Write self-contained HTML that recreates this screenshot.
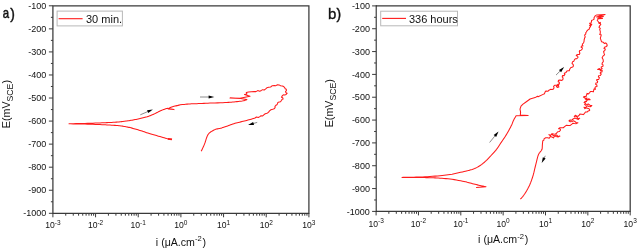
<!DOCTYPE html>
<html><head><meta charset="utf-8"><style>
html,body{margin:0;padding:0;background:#fff;}
svg{display:block;will-change:transform;}
text{font-family:"Liberation Sans", sans-serif;fill:#111;}
</style></head><body>
<svg width="637" height="249" viewBox="0 0 637 249">
<rect width="637" height="249" fill="#fff"/>
<path d="M52.9,213.3 L52.9,5.8 L308.9,5.8 L308.9,213.3 Z" fill="none" stroke="#3a3a3a" stroke-width="1.25"/>
<path d="M48.90,5.80H52.90M50.90,17.33H52.90M48.90,28.86H52.90M50.90,40.38H52.90M48.90,51.91H52.90M50.90,63.44H52.90M48.90,74.97H52.90M50.90,86.49H52.90M48.90,98.02H52.90M50.90,109.55H52.90M48.90,121.08H52.90M50.90,132.61H52.90M48.90,144.13H52.90M50.90,155.66H52.90M48.90,167.19H52.90M50.90,178.72H52.90M48.90,190.24H52.90M50.90,201.77H52.90M48.90,213.30H52.90M52.90,213.30V217.30M65.74,213.30V215.70M73.26,213.30V215.70M78.59,213.30V215.70M82.72,213.30V215.70M86.10,213.30V215.70M88.96,213.30V215.70M91.43,213.30V215.70M93.61,213.30V215.70M95.57,213.30V217.30M108.41,213.30V215.70M115.92,213.30V215.70M121.25,213.30V215.70M125.39,213.30V215.70M128.77,213.30V215.70M131.62,213.30V215.70M134.10,213.30V215.70M136.28,213.30V215.70M138.23,213.30V217.30M151.08,213.30V215.70M158.59,213.30V215.70M163.92,213.30V215.70M168.06,213.30V215.70M171.43,213.30V215.70M174.29,213.30V215.70M176.77,213.30V215.70M178.95,213.30V215.70M180.90,213.30V217.30M193.74,213.30V215.70M201.26,213.30V215.70M206.59,213.30V215.70M210.72,213.30V215.70M214.10,213.30V215.70M216.96,213.30V215.70M219.43,213.30V215.70M221.61,213.30V215.70M223.57,213.30V217.30M236.41,213.30V215.70M243.92,213.30V215.70M249.25,213.30V215.70M253.39,213.30V215.70M256.77,213.30V215.70M259.62,213.30V215.70M262.10,213.30V215.70M264.28,213.30V215.70M266.23,213.30V217.30M279.08,213.30V215.70M286.59,213.30V215.70M291.92,213.30V215.70M296.06,213.30V215.70M299.43,213.30V215.70M302.29,213.30V215.70M304.77,213.30V215.70M306.95,213.30V215.70M308.90,213.30V217.30" fill="none" stroke="#3a3a3a" stroke-width="1"/>
<text x="46.2" y="8.90" text-anchor="end" font-size="9">-100</text>
<text x="46.2" y="31.96" text-anchor="end" font-size="9">-200</text>
<text x="46.2" y="55.01" text-anchor="end" font-size="9">-300</text>
<text x="46.2" y="78.07" text-anchor="end" font-size="9">-400</text>
<text x="46.2" y="101.12" text-anchor="end" font-size="9">-500</text>
<text x="46.2" y="124.18" text-anchor="end" font-size="9">-600</text>
<text x="46.2" y="147.23" text-anchor="end" font-size="9">-700</text>
<text x="46.2" y="170.29" text-anchor="end" font-size="9">-800</text>
<text x="46.2" y="193.34" text-anchor="end" font-size="9">-900</text>
<text x="46.2" y="216.40" text-anchor="end" font-size="9">-1000</text>
<text x="52.90" y="228.2" text-anchor="middle" font-size="8.6">10<tspan font-size="6.5" dy="-3.4">-3</tspan></text>
<text x="95.57" y="228.2" text-anchor="middle" font-size="8.6">10<tspan font-size="6.5" dy="-3.4">-2</tspan></text>
<text x="138.23" y="228.2" text-anchor="middle" font-size="8.6">10<tspan font-size="6.5" dy="-3.4">-1</tspan></text>
<text x="180.90" y="228.2" text-anchor="middle" font-size="8.6">10<tspan font-size="6.5" dy="-3.4">0</tspan></text>
<text x="223.57" y="228.2" text-anchor="middle" font-size="8.6">10<tspan font-size="6.5" dy="-3.4">1</tspan></text>
<text x="266.23" y="228.2" text-anchor="middle" font-size="8.6">10<tspan font-size="6.5" dy="-3.4">2</tspan></text>
<text x="308.90" y="228.2" text-anchor="middle" font-size="8.6">10<tspan font-size="6.5" dy="-3.4">3</tspan></text>
<text x="180.90" y="245.5" text-anchor="middle" font-size="10.6">i (&#956;A.cm<tspan font-size="7.6" dy="-4.4">-2</tspan><tspan dy="4.4" dx="0.7">)</tspan></text>
<text transform="translate(10.4,128.2) rotate(-90)" x="0" y="0" font-size="10.7">E(mV<tspan font-size="8.7" dy="2.3">SCE</tspan><tspan dy="-2.3">)</tspan></text>
<text transform="translate(2.7,18.4) scale(0.8,1)" font-size="14.2" stroke="#111" stroke-width="0.55">a</text>
<text x="10.3" y="18.6" font-size="13.8" stroke="#111" stroke-width="0.4">)</text>
<rect x="57.1" y="11.1" width="65.30" height="14.80" fill="#fff" stroke="#b8b8b8" stroke-width="1"/>
<path d="M58.6,18.7H82.6" stroke="#ff1a1a" stroke-width="1.1"/>
<text x="86.0" y="22.90" font-size="11">30 min.</text>
<path d="M376.1,211.4 L630.2,211.4 L630.2,5.9 L376.1,5.9" fill="none" stroke="#3a3a3a" stroke-width="1.25"/>
<path d="M376.2,212.0 L376.2,5.300000000000001" fill="none" stroke="#222" stroke-width="1.05"/>
<path d="M372.10,5.90H376.10M374.10,17.32H376.10M372.10,28.73H376.10M374.10,40.15H376.10M372.10,51.57H376.10M374.10,62.98H376.10M372.10,74.40H376.10M374.10,85.82H376.10M372.10,97.23H376.10M374.10,108.65H376.10M372.10,120.07H376.10M374.10,131.48H376.10M372.10,142.90H376.10M374.10,154.32H376.10M372.10,165.73H376.10M374.10,177.15H376.10M372.10,188.57H376.10M374.10,199.98H376.10M372.10,211.40H376.10M376.10,211.40V215.40M388.85,211.40V213.80M396.31,211.40V213.80M401.60,211.40V213.80M405.70,211.40V213.80M409.05,211.40V213.80M411.89,211.40V213.80M414.35,211.40V213.80M416.51,211.40V213.80M418.45,211.40V215.40M431.20,211.40V213.80M438.66,211.40V213.80M443.95,211.40V213.80M448.05,211.40V213.80M451.40,211.40V213.80M454.24,211.40V213.80M456.70,211.40V213.80M458.86,211.40V213.80M460.80,211.40V215.40M473.55,211.40V213.80M481.01,211.40V213.80M486.30,211.40V213.80M490.40,211.40V213.80M493.75,211.40V213.80M496.59,211.40V213.80M499.05,211.40V213.80M501.21,211.40V213.80M503.15,211.40V215.40M515.90,211.40V213.80M523.36,211.40V213.80M528.65,211.40V213.80M532.75,211.40V213.80M536.10,211.40V213.80M538.94,211.40V213.80M541.40,211.40V213.80M543.56,211.40V213.80M545.50,211.40V215.40M558.25,211.40V213.80M565.71,211.40V213.80M571.00,211.40V213.80M575.10,211.40V213.80M578.45,211.40V213.80M581.29,211.40V213.80M583.75,211.40V213.80M585.91,211.40V213.80M587.85,211.40V215.40M600.60,211.40V213.80M608.06,211.40V213.80M613.35,211.40V213.80M617.45,211.40V213.80M620.80,211.40V213.80M623.64,211.40V213.80M626.10,211.40V213.80M628.26,211.40V213.80M630.20,211.40V215.40" fill="none" stroke="#3a3a3a" stroke-width="1"/>
<text x="369.9" y="9.00" text-anchor="end" font-size="9">-100</text>
<text x="369.9" y="31.83" text-anchor="end" font-size="9">-200</text>
<text x="369.9" y="54.67" text-anchor="end" font-size="9">-300</text>
<text x="369.9" y="77.50" text-anchor="end" font-size="9">-400</text>
<text x="369.9" y="100.33" text-anchor="end" font-size="9">-500</text>
<text x="369.9" y="123.17" text-anchor="end" font-size="9">-600</text>
<text x="369.9" y="146.00" text-anchor="end" font-size="9">-700</text>
<text x="369.9" y="168.83" text-anchor="end" font-size="9">-800</text>
<text x="369.9" y="191.67" text-anchor="end" font-size="9">-900</text>
<text x="369.9" y="214.50" text-anchor="end" font-size="9">-1000</text>
<text x="376.10" y="226.7" text-anchor="middle" font-size="8.6">10<tspan font-size="6.5" dy="-3.4">-3</tspan></text>
<text x="418.45" y="226.7" text-anchor="middle" font-size="8.6">10<tspan font-size="6.5" dy="-3.4">-2</tspan></text>
<text x="460.80" y="226.7" text-anchor="middle" font-size="8.6">10<tspan font-size="6.5" dy="-3.4">-1</tspan></text>
<text x="503.15" y="226.7" text-anchor="middle" font-size="8.6">10<tspan font-size="6.5" dy="-3.4">0</tspan></text>
<text x="545.50" y="226.7" text-anchor="middle" font-size="8.6">10<tspan font-size="6.5" dy="-3.4">1</tspan></text>
<text x="587.85" y="226.7" text-anchor="middle" font-size="8.6">10<tspan font-size="6.5" dy="-3.4">2</tspan></text>
<text x="630.20" y="226.7" text-anchor="middle" font-size="8.6">10<tspan font-size="6.5" dy="-3.4">3</tspan></text>
<text x="503.15" y="243.2" text-anchor="middle" font-size="10.6">i (&#956;A.cm<tspan font-size="7.6" dy="-4.4">-2</tspan><tspan dy="4.4" dx="0.7">)</tspan></text>
<text transform="translate(333.3,127.3) rotate(-90)" x="0" y="0" font-size="10.7">E(mV<tspan font-size="8.7" dy="2.3">SCE</tspan><tspan dy="-2.3">)</tspan></text>
<text x="328.1" y="18.8" font-size="15" stroke="#111" stroke-width="0.35">b</text>
<text x="336.5" y="18.8" font-size="13.8" stroke="#111" stroke-width="0.4">)</text>
<rect x="380.7" y="11.2" width="76.80" height="14.60" fill="#fff" stroke="#b8b8b8" stroke-width="1"/>
<path d="M382.2,18.4H406.0" stroke="#ff1a1a" stroke-width="1.1"/>
<text x="408.9" y="23.00" font-size="11">336 hours</text>
<path d="M171.90,139.40 L171.48,139.35 L170.94,139.30 L170.28,139.24 L169.51,139.14 L168.65,139.00 L167.70,138.80 L166.65,138.54 L165.50,138.22 L164.26,137.86 L162.92,137.46 L161.50,137.04 L160.00,136.60 L158.35,136.13 L156.53,135.61 L154.62,135.06 L152.72,134.51 L150.92,133.99 L149.30,133.50 L147.88,133.05 L146.60,132.63 L145.41,132.22 L144.28,131.83 L143.19,131.46 L142.10,131.10 L141.03,130.76 L140.01,130.45 L139.03,130.16 L138.06,129.87 L137.09,129.59 L136.10,129.30 L135.09,129.01 L134.07,128.71 L133.05,128.41 L132.03,128.13 L131.01,127.85 L130.00,127.60 L128.98,127.37 L127.96,127.14 L126.93,126.94 L125.92,126.74 L124.94,126.57 L124.00,126.40 L123.16,126.25 L122.41,126.13 L121.69,126.01 L120.93,125.91 L120.05,125.81 L119.00,125.70 L117.74,125.59 L116.33,125.49 L114.81,125.39 L113.22,125.29 L111.60,125.19 L110.00,125.10 L108.45,125.01 L106.93,124.93 L105.38,124.84 L103.74,124.76 L101.97,124.68 L100.00,124.60 L97.80,124.51 L95.41,124.43 L92.88,124.34 L90.26,124.25 L87.62,124.17 L85.00,124.10 L82.21,124.03 L79.15,123.97 L76.06,123.92 L73.19,123.87 L70.75,123.83 L69.00,123.80 L70.75,123.76 L73.19,123.70 L76.06,123.63 L79.15,123.56 L82.21,123.48 L85.00,123.40 L87.62,123.32 L90.26,123.24 L92.88,123.15 L95.41,123.06 L97.80,122.98 L100.00,122.90 L101.97,122.83 L103.74,122.77 L105.38,122.71 L106.93,122.64 L108.45,122.58 L110.00,122.50 L111.60,122.41 L113.22,122.31 L114.81,122.21 L116.33,122.11 L117.74,122.00 L119.00,121.90 L120.05,121.80 L120.93,121.71 L121.69,121.61 L122.41,121.51 L123.16,121.41 L124.00,121.30 L124.94,121.18 L125.92,121.06 L126.93,120.93 L127.96,120.80 L128.98,120.65 L130.00,120.50 L131.01,120.34 L132.03,120.16 L133.05,119.98 L134.07,119.79 L135.09,119.60 L136.10,119.40 L137.11,119.20 L138.11,119.00 L139.11,118.79 L140.10,118.57 L141.10,118.34 L142.10,118.10 L143.10,117.85 L144.10,117.59 L145.10,117.32 L146.10,117.03 L147.10,116.73 L148.10,116.40 L149.12,116.04 L150.16,115.64 L151.20,115.23 L152.22,114.81 L153.19,114.40 L154.10,114.00 L154.94,113.61 L155.74,113.22 L156.49,112.84 L157.20,112.47 L157.87,112.12 L158.50,111.80 L159.07,111.52 L159.59,111.26 L160.06,111.03 L160.51,110.81 L160.95,110.60 L161.40,110.40 L161.84,110.21 L162.26,110.04 L162.68,109.88 L163.09,109.73 L163.53,109.57 L164.00,109.40 L164.55,109.21 L165.17,109.00 L165.81,108.79 L166.42,108.59 L166.93,108.42 L167.30,108.30 L168.20,108.90 L174.00,109.60 L168.50,108.50 L171.00,107.20 L174.00,106.20 L177.00,105.40 L180.00,104.90 L176.00,105.90 L179.00,105.00 L182.20,104.60 L183.04,104.52 L184.20,104.40 L185.57,104.27 L187.06,104.13 L188.57,104.00 L190.00,103.90 L191.34,103.83 L192.67,103.78 L194.02,103.74 L195.42,103.70 L196.90,103.66 L198.50,103.60 L200.20,103.53 L201.98,103.45 L203.84,103.36 L205.80,103.27 L207.85,103.19 L210.00,103.10 L212.37,103.02 L214.96,102.94 L217.66,102.86 L220.31,102.78 L222.81,102.69 L225.00,102.60 L226.86,102.50 L228.48,102.39 L229.93,102.28 L231.29,102.16 L232.62,102.03 L234.00,101.90 L235.45,101.76 L236.92,101.62 L238.36,101.47 L239.74,101.31 L241.00,101.16 L242.10,101.00 L243.05,100.83 L243.89,100.64 L244.61,100.44 L245.21,100.26 L245.71,100.11 L246.10,100.00 L246.90,99.60 L240.50,98.40 L230.00,98.00 L240.00,98.30 L250.00,96.30 L244.50,94.60 L246.90,94.00 L246.30,92.60 L248.50,92.00 L254.10,91.50 L255.98,91.62 L257.70,90.61 L259.65,91.16 L261.40,90.40 L262.63,89.66 L264.21,89.97 L265.40,89.10 L266.85,87.79 L268.70,87.20 L270.65,86.97 L272.31,85.70 L274.30,85.60 L275.94,85.67 L277.44,84.71 L279.10,84.90 L280.60,85.75 L282.30,86.00 L283.68,86.53 L284.70,87.60 L285.20,88.70 L286.30,89.20 L286.42,90.62 L285.50,91.70 L286.06,92.74 L287.10,93.30 L286.10,94.41 L284.70,94.90 L283.35,94.84 L282.30,95.70 L281.50,97.30 L282.71,97.69 L283.10,98.90 L281.97,99.37 L281.50,100.50 L280.53,101.65 L279.10,102.10 L277.88,102.48 L277.50,103.70 L276.92,104.72 L275.90,105.30 L274.97,106.32 L275.10,107.70 L274.11,108.82 L272.70,109.30 L270.95,109.79 L269.50,110.90 L268.48,112.34 L267.00,113.30 L265.22,113.75 L263.80,114.90 L262.68,115.97 L260.99,115.71 L259.80,116.60 L258.33,117.52 L256.46,117.06 L255.00,118.00 L254.36,118.20 L253.48,118.47 L252.44,118.79 L251.30,119.13 L250.13,119.48 L249.00,119.80 L247.89,120.10 L246.74,120.40 L245.56,120.71 L244.37,121.01 L243.18,121.31 L242.00,121.60 L240.83,121.88 L239.64,122.15 L238.46,122.42 L237.29,122.69 L236.13,122.98 L235.00,123.30 L233.88,123.66 L232.77,124.05 L231.67,124.46 L230.60,124.86 L229.57,125.25 L228.60,125.60 L227.68,125.91 L226.79,126.20 L225.95,126.47 L225.15,126.73 L224.40,126.97 L223.70,127.20 L223.09,127.41 L222.57,127.61 L222.09,127.79 L221.62,127.96 L221.11,128.13 L220.50,128.30 L219.79,128.46 L219.02,128.59 L218.20,128.71 L217.36,128.86 L216.52,129.05 L215.70,129.30 L214.87,129.63 L214.02,130.03 L213.16,130.46 L212.34,130.92 L211.57,131.37 L210.90,131.80 L210.33,132.20 L209.83,132.57 L209.40,132.95 L209.01,133.34 L208.65,133.75 L208.30,134.20 L207.98,134.66 L207.71,135.11 L207.47,135.59 L207.24,136.12 L206.99,136.75 L206.70,137.50 L206.38,138.40 L206.05,139.43 L205.71,140.56 L205.34,141.73 L204.94,142.93 L204.50,144.10 L203.98,145.35 L203.36,146.72 L202.71,148.11 L202.10,149.41 L201.57,150.51 L201.20,151.30" fill="none" stroke="#ff1a1a" stroke-width="1.05" stroke-linejoin="round"/>
<path d="M167.8,138.85 L172.0,139.45" stroke="#ff1a1a" stroke-width="1.7"/>
<path d="M476.10,187.40 L486.00,186.80 L485.60,186.71 L485.07,186.59 L484.44,186.45 L483.70,186.29 L482.89,186.10 L482.00,185.90 L481.01,185.68 L479.89,185.43 L478.69,185.16 L477.44,184.88 L476.20,184.59 L475.00,184.30 L473.80,183.99 L472.55,183.65 L471.31,183.31 L470.10,182.97 L468.99,182.66 L468.00,182.40 L467.26,182.21 L466.77,182.07 L466.36,181.97 L465.89,181.86 L465.18,181.71 L464.10,181.50 L462.57,181.20 L460.70,180.82 L458.61,180.41 L456.41,180.00 L454.20,179.62 L452.10,179.30 L450.06,179.05 L448.00,178.83 L445.93,178.64 L443.88,178.48 L441.90,178.34 L440.00,178.20 L438.23,178.08 L436.59,177.98 L434.99,177.89 L433.40,177.82 L431.76,177.76 L430.00,177.70 L428.16,177.65 L426.30,177.61 L424.38,177.57 L422.37,177.55 L420.25,177.52 L418.00,177.50 L415.38,177.48 L412.37,177.46 L409.25,177.44 L406.30,177.42 L403.79,177.41 L402.00,177.40 L403.05,177.38 L404.48,177.36 L406.19,177.32 L408.07,177.29 L410.04,177.25 L412.00,177.20 L413.97,177.15 L416.04,177.11 L418.19,177.06 L420.41,176.99 L422.68,176.91 L425.00,176.80 L427.42,176.66 L429.96,176.50 L432.56,176.32 L435.14,176.12 L437.64,175.91 L440.00,175.70 L442.19,175.49 L444.25,175.27 L446.24,175.05 L448.18,174.80 L450.12,174.52 L452.10,174.20 L454.18,173.80 L456.33,173.34 L458.49,172.84 L460.56,172.35 L462.45,171.89 L464.10,171.50 L465.42,171.21 L466.48,170.99 L467.36,170.80 L468.18,170.61 L469.02,170.39 L470.00,170.10 L471.10,169.75 L472.25,169.38 L473.43,168.97 L474.62,168.51 L475.81,167.99 L477.00,167.40 L478.18,166.73 L479.36,166.01 L480.55,165.22 L481.74,164.37 L482.92,163.46 L484.10,162.50 L485.29,161.45 L486.50,160.29 L487.70,159.08 L488.88,157.85 L490.02,156.64 L491.10,155.50 L492.11,154.43 L493.07,153.41 L493.99,152.41 L494.87,151.41 L495.74,150.38 L496.60,149.30 L497.44,148.16 L498.25,146.97 L499.04,145.76 L499.83,144.54 L500.61,143.31 L501.40,142.10 L502.20,140.92 L503.00,139.76 L503.79,138.60 L504.59,137.42 L505.39,136.19 L506.20,134.90 L507.04,133.49 L507.92,131.97 L508.80,130.41 L509.65,128.86 L510.43,127.41 L511.10,126.10 L511.64,124.96 L512.08,123.93 L512.44,122.99 L512.78,122.10 L513.12,121.25 L513.50,120.40 L513.95,119.52 L514.45,118.61 L514.95,117.74 L515.42,116.95 L515.81,116.29 L516.10,115.80 L528.20,115.40 L520.30,115.10 L520.60,112.10 L520.00,109.10 L521.00,106.10 L523.00,104.10 L526.00,102.00 L530.10,99.00 L535.10,97.60 L537.50,96.20 L538.10,96.80 L543.10,94.40 L544.52,93.70 L545.00,92.20 L546.02,90.91 L547.88,91.29 L549.00,90.20 L550.50,89.38 L552.20,89.50 L553.48,88.98 L554.00,87.70 L553.57,86.32 L554.60,85.30 L556.60,85.31 L558.20,84.10 L557.77,85.65 L556.40,86.50 L557.43,87.49 L558.80,87.10 L558.45,85.19 L559.40,83.50 L559.29,82.28 L558.20,81.70 L558.53,80.23 L560.00,79.90 L561.30,80.50 L562.82,79.70 L563.10,78.00 L562.26,76.94 L562.50,75.60 L564.02,75.63 L564.90,74.40 L564.30,73.20 L566.10,72.60 L566.51,71.21 L567.90,70.80 L569.26,70.82 L569.60,69.50 L570.61,67.69 L572.60,67.10 L573.46,66.04 L573.20,64.70 L572.03,63.37 L572.60,61.70 L573.86,61.16 L574.40,59.90 L575.31,58.73 L576.80,58.70 L578.00,57.50 L577.66,56.04 L576.20,55.70 L576.81,54.67 L578.00,54.50 L579.31,54.47 L579.90,53.30 L579.30,51.40 L579.94,50.41 L581.10,50.20 L582.30,49.00 L582.32,47.68 L581.10,47.20 L581.56,45.94 L582.90,46.00 L582.30,44.20 L583.50,43.00 L584.10,41.20 L584.10,40.00 L584.60,38.10 L585.20,36.90 L584.60,35.10 L585.80,33.90 L585.80,32.70 L586.40,32.00 L587.00,30.80 L588.20,29.60 L589.40,29.00 L589.40,27.80 L590.60,26.60 L589.60,25.40 L591.04,25.42 L591.80,24.20 L590.35,24.47 L589.60,23.20 L590.81,23.15 L591.40,22.10 L591.52,20.57 L592.90,19.90 L594.09,19.12 L594.00,17.70 L595.40,15.60 L596.80,14.90 L605.10,14.50 L596.50,16.90 L603.30,16.40 L597.80,18.60 L602.50,18.40 L598.30,18.80 L597.20,20.30 L598.30,21.70 L599.08,22.87 L600.40,22.40 L599.00,23.50 L600.32,23.37 L600.80,24.60 L599.70,25.70 L599.01,27.27 L600.30,28.40 L599.70,29.60 L600.30,31.40 L600.30,33.30 L599.70,34.50 L601.19,34.81 L600.90,36.30 L600.30,38.10 L600.90,39.90 L601.50,41.70 L603.30,42.30 L604.30,43.39 L605.70,42.90 L606.90,44.10 L607.20,45.80 L605.80,46.80 L604.49,47.29 L604.00,48.60 L605.29,49.08 L604.90,50.40 L603.59,51.52 L604.00,53.20 L604.59,54.90 L603.10,55.90 L602.10,57.70 L603.10,59.50 L603.34,61.47 L602.20,63.10 L601.97,64.34 L603.10,64.90 L602.85,66.45 L601.30,66.70 L601.24,67.89 L602.20,68.60 L600.86,69.69 L599.07,68.57 L597.70,69.50 L599.32,69.20 L600.59,70.67 L602.20,70.40 L601.99,71.99 L600.40,72.20 L600.29,73.38 L601.30,74.00 L600.33,75.47 L598.60,75.80 L598.37,77.04 L599.50,77.60 L598.72,79.36 L596.80,79.40 L596.72,80.57 L597.70,81.20 L597.36,82.66 L595.90,83.00 L595.58,84.31 L596.80,84.90 L597.00,86.43 L595.50,86.80 L594.90,88.00 L595.50,89.20 L594.04,88.97 L593.70,90.40 L593.37,91.85 L591.90,91.60 L590.39,91.57 L589.50,92.80 L588.43,93.86 L587.00,93.40 L588.30,94.00 L586.95,93.97 L586.40,95.20 L586.07,96.66 L584.60,96.40 L583.40,97.00 L584.60,97.70 L585.67,98.92 L587.00,98.00 L586.38,99.02 L585.20,98.90 L586.37,99.69 L587.70,99.20 L589.04,98.79 L590.10,99.70 L588.40,99.39 L587.00,100.40 L586.47,101.58 L585.20,101.30 L584.00,102.50 L585.80,103.10 L584.60,104.30 L585.73,105.27 L587.00,104.50 L588.36,104.01 L589.50,104.90 L590.57,105.74 L591.90,105.50 L590.62,106.70 L588.90,106.40 L587.56,105.80 L586.40,106.70 L585.41,107.84 L584.00,107.30 L584.94,108.64 L586.40,107.90 L588.30,108.50 L589.50,109.10 L589.67,110.52 L588.30,110.90 L587.00,112.10 L585.43,111.95 L584.60,113.30 L583.30,114.60 L581.50,114.20 L579.89,113.98 L579.10,115.40 L578.04,116.26 L576.70,116.00 L575.25,115.29 L574.30,116.60 L576.08,116.11 L577.30,117.50 L578.21,118.84 L579.70,118.20 L578.36,119.43 L576.70,118.70 L574.84,118.09 L573.10,119.00 L571.82,120.19 L570.10,119.90 L568.90,120.80 L570.28,121.70 L571.90,121.40 L573.85,120.81 L575.50,122.00 L576.54,122.91 L577.90,122.70 L576.23,123.67 L574.30,123.50 L572.91,123.21 L571.90,124.20 L570.30,125.41 L568.30,125.40 L566.22,125.30 L564.60,126.60 L563.32,127.74 L561.60,127.80 L559.94,127.72 L558.60,128.70 L559.95,128.82 L560.60,130.00 L559.40,131.50 L557.76,131.72 L556.70,133.00 L555.44,134.21 L553.70,134.00 L552.03,133.64 L550.63,135.42 L548.90,134.60 L550.17,135.68 L551.79,134.37 L553.10,135.20 L554.71,136.11 L556.60,134.92 L558.10,136.62 L559.90,136.10 L558.06,136.91 L556.10,136.50 L554.58,135.66 L553.43,137.92 L551.90,137.00 L550.37,136.44 L549.23,138.27 L547.70,137.70 L545.67,137.73 L544.00,138.90 L543.90,140.14 L542.80,140.70 L542.76,141.10 L542.70,141.65 L542.62,142.30 L542.55,143.02 L542.47,143.76 L542.40,144.50 L542.35,145.27 L542.31,146.11 L542.28,146.98 L542.23,147.83 L542.14,148.62 L542.00,149.30 L541.79,149.86 L541.52,150.33 L541.21,150.74 L540.89,151.10 L540.58,151.45 L540.30,151.80 L540.03,152.16 L539.76,152.52 L539.49,152.86 L539.25,153.16 L539.05,153.41 L538.90,153.60 L538.78,153.89 L538.63,154.22 L538.45,154.65 L538.23,155.21 L537.98,155.95 L537.70,156.90 L537.37,158.14 L536.99,159.63 L536.58,161.31 L536.14,163.07 L535.71,164.83 L535.30,166.50 L534.91,168.10 L534.54,169.70 L534.17,171.29 L533.79,172.89 L533.37,174.49 L532.90,176.10 L532.38,177.73 L531.83,179.37 L531.25,181.03 L530.63,182.66 L529.98,184.26 L529.30,185.80 L528.56,187.31 L527.76,188.82 L526.93,190.29 L526.09,191.70 L525.27,193.01 L524.50,194.20 L523.73,195.29 L522.93,196.30 L522.15,197.22 L521.44,198.03 L520.84,198.70 L520.40,199.20" fill="none" stroke="#ff1a1a" stroke-width="1.05" stroke-linejoin="round"/>
<path d="M140.30,114.80L148.58,111.25" stroke="#666" stroke-width="0.75"/><path d="M152.90,109.40L148.27,113.07L147.05,110.22Z" fill="#000"/>
<path d="M200.00,97.00L209.60,97.00" stroke="#666" stroke-width="0.75"/><path d="M214.30,97.00L208.60,98.55L208.60,95.45Z" fill="#000"/>
<path d="M257.20,122.40L252.62,123.71" stroke="#666" stroke-width="0.75"/><path d="M248.10,125.00L253.15,121.94L254.01,124.92Z" fill="#000"/>
<path d="M489.60,142.50L495.54,135.15" stroke="#666" stroke-width="0.75"/><path d="M498.50,131.50L496.12,136.91L493.71,134.96Z" fill="#000"/>
<path d="M556.00,75.10L560.76,70.40" stroke="#666" stroke-width="0.75"/><path d="M564.10,67.10L561.13,72.21L558.96,70.00Z" fill="#000"/>
<path d="M545.30,155.80L543.80,158.80" stroke="#666" stroke-width="0.75"/><path d="M541.70,163.00L542.86,157.21L545.64,158.59Z" fill="#000"/>
</svg>
</body></html>
